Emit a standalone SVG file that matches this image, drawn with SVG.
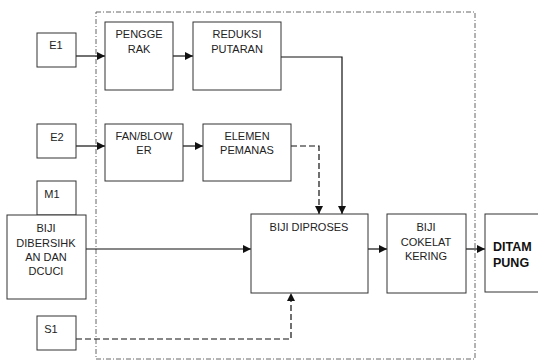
<svg xmlns="http://www.w3.org/2000/svg" width="538" height="362" viewBox="0 0 538 362">
<defs>
<marker id="ah" viewBox="0 0 8 8" refX="8" refY="4" markerWidth="8" markerHeight="8" markerUnits="userSpaceOnUse" orient="auto">
<path d="M0,0 L8,4 L0,8 Z" fill="#111"/>
</marker>
</defs>
<style>
.box{fill:#fff;stroke:#333;stroke-width:1}
.t{font-family:"Liberation Sans",Arial,sans-serif;font-size:11px;fill:#222;text-anchor:middle}
.b{font-family:"Liberation Sans",Arial,sans-serif;font-size:12.5px;font-weight:bold;fill:#111}
.c{fill:none;stroke:#111;stroke-width:1.2}
.d{fill:none;stroke:#111;stroke-width:1.2;stroke-dasharray:6,3}
.bd{fill:none;stroke:#666;stroke-width:1;stroke-dasharray:5,2,1,2}
</style>
<rect width="538" height="362" fill="#fff"/>
<rect class="bd" x="96" y="12" width="379" height="347"/>
<g id="connectors">
<line class="c" x1="76" y1="56" x2="105" y2="56" marker-end="url(#ah)"/>
<line class="c" x1="173" y1="56" x2="193" y2="56" marker-end="url(#ah)"/>
<polyline class="c" points="281,57 342,57 342,214" marker-end="url(#ah)"/>
<line class="c" x1="76" y1="146" x2="105" y2="146" marker-end="url(#ah)"/>
<line class="c" x1="183" y1="146" x2="203" y2="146" marker-end="url(#ah)"/>
<polyline class="d" points="291,146 319,146 319,214" marker-end="url(#ah)"/>
<line class="c" x1="86" y1="249" x2="251" y2="249" marker-end="url(#ah)"/>
<polyline class="d" points="76,339 291,339 291,293" marker-end="url(#ah)"/>
<line class="c" x1="368" y1="249" x2="387" y2="249" marker-end="url(#ah)"/>
<line class="c" x1="466" y1="249" x2="485" y2="249" marker-end="url(#ah)"/>
</g>
<g id="E1"><rect class="box" x="37" y="33" width="39" height="34"/><text class="t" x="56" y="49">E1</text></g>
<g id="PENGGERAK"><rect class="box" x="105" y="22" width="68" height="68"/><text class="t" x="139" y="38">PENGGE</text><text class="t" x="139" y="53">RAK</text></g>
<g id="REDUKSI"><rect class="box" x="193" y="22" width="88" height="68"/><text class="t" x="237" y="38">REDUKSI</text><text class="t" x="237" y="53">PUTARAN</text></g>
<g id="E2"><rect class="box" x="37" y="124" width="39" height="34"/><text class="t" x="57" y="141">E2</text></g>
<g id="FAN"><rect class="box" x="105" y="124" width="78" height="57"/><text class="t" x="144" y="140">FAN/BLOW</text><text class="t" x="144" y="154">ER</text></g>
<g id="ELEMEN"><rect class="box" x="203" y="124" width="88" height="57"/><text class="t" x="247" y="140">ELEMEN</text><text class="t" x="247" y="154">PEMANAS</text></g>
<g id="M1"><rect class="box" x="37" y="181" width="39" height="34"/><text class="t" x="52" y="198">M1</text></g>
<g id="BIJI_DIBERSIHKAN"><rect class="box" x="7" y="215" width="79" height="84"/><text class="t" x="46" y="232">BIJI</text><text class="t" x="46" y="247">DIBERSIHK</text><text class="t" x="46" y="261">AN DAN</text><text class="t" x="46" y="275">DCUCI</text></g>
<g id="S1"><rect class="box" x="37" y="316" width="39" height="34"/><text class="t" x="51" y="333">S1</text></g>
<g id="BIJI_DIPROSES"><rect class="box" x="251" y="214" width="117" height="79"/><text class="t" x="309" y="231">BIJI DIPROSES</text></g>
<g id="BIJI_COKELAT"><rect class="box" x="387" y="214" width="79" height="79"/><text class="t" x="426" y="231">BIJI</text><text class="t" x="426" y="246">COKELAT</text><text class="t" x="426" y="260">KERING</text></g>
<g id="DITAMPUNG"><rect class="box" x="485" y="214" width="70" height="78"/><text class="b" x="493" y="251">DITAM</text><text class="b" x="493" y="267">PUNG</text></g>
</svg>
